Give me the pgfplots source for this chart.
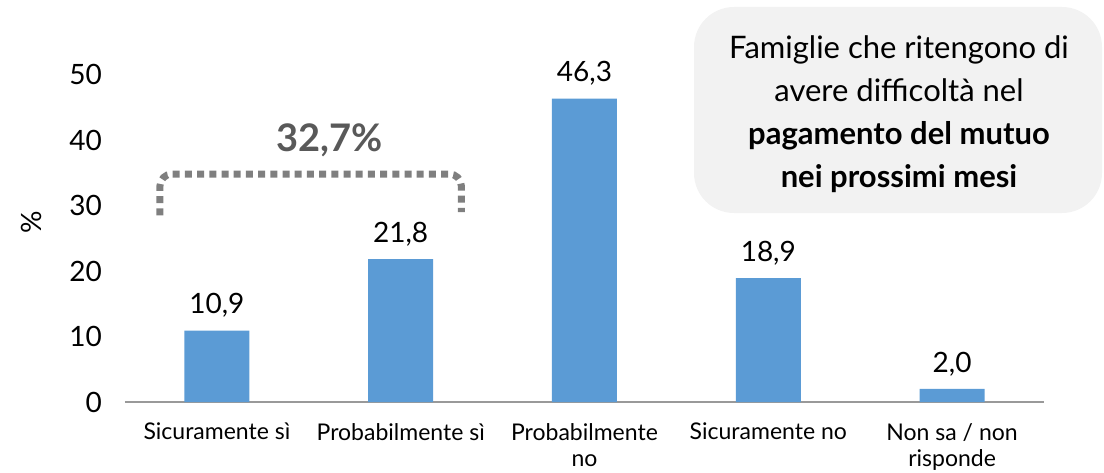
\documentclass[border=0pt]{standalone}
\usepackage{pgfplots}
\pgfplotsset{compat=1.18}
\usepackage{fontspec}
\setmainfont{Lato}
\definecolor{barblue}{HTML}{5B9BD5}
\definecolor{bracketgray}{HTML}{7F7F7F}
\definecolor{labelgray}{HTML}{595959}
\definecolor{boxgray}{HTML}{F2F2F2}

\begin{document}
\begin{tikzpicture}
\begin{axis}[name=ax, scale only axis, width=459.5pt, height=163.75pt,
  xmin=-0.5, xmax=4.5, ymin=0, ymax=50, ytick={0,10,...,50},
  xtick={0,...,4},
  xticklabels={Sicuramente sì, Probabilmente sì, Probabilmente\\no, Sicuramente no, Non sa / non\\risponde},
  axis lines*=left, y axis line style={draw=none},
  x axis line style={color=gray!80, line width=1pt, -},
  major tick length=0pt,
  xticklabel style={font=\fontsize{11.5}{13}\selectfont, align=center, yshift=-7pt},
  yticklabel style={font=\fontsize{14}{17}\selectfont, xshift=-8pt},
  ylabel={\%}, ylabel style={font=\fontsize{14}{17}\selectfont, at={(axis description cs:-0.102,0.55)}, anchor=center},
  /pgf/number format/assume math mode=true]
\addplot[ybar, bar width=32.5pt, fill=barblue, draw=none,
  nodes near coords,
  nodes near coords style={font=\fontsize{14}{17}\selectfont, black, yshift=3pt,
    /pgf/number format/.cd, fixed, fixed zerofill, precision=1, use comma, assume math mode=true}]
  coordinates {(0,10.9) (1,21.8) (2,46.3) (3,18.9) (4,2.0)};
\draw[bracketgray, line width=3.5pt, dash pattern=on 3.5pt off 2.6pt, rounded corners=6pt]
  (axis cs:-0.31,28.5) -- (axis cs:-0.31,34.8) -- (axis cs:1.33,34.8) -- (axis cs:1.33,29);
\node[font=\fontsize{19}{22}\selectfont\bfseries, text=labelgray] at (axis cs:0.614,40) {32,7\%};
\end{axis}
\fill[boxgray, rounded corners=20pt] ([shift={(284.5pt,94.5pt)}]ax.south west) rectangle ([shift={(488.5pt,197.5pt)}]ax.south west);
\node[align=center, font=\fontsize{15.5}{21.5}\selectfont] at ([shift={(387pt,144pt)}]ax.south west)
  {Famiglie che ritengono di\\avere difficoltà nel\\\textbf{pagamento del mutuo}\\\textbf{nei prossimi mesi}};
\pgfresetboundingbox
\path ([shift={(-62.5pt,-35pt)}]ax.south west) rectangle ++(552pt,236pt);
\end{tikzpicture}
\end{document}
